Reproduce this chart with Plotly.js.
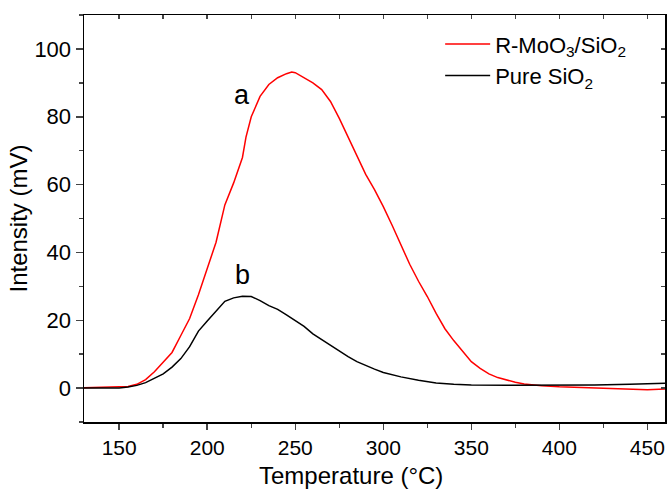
<!DOCTYPE html>
<html>
<head>
<meta charset="utf-8">
<script src="https://cdn.plot.ly/plotly-3.0.1.min.js"></script>
<style>html,body{margin:0;padding:0;background:#fff;}#chart{width:668px;height:492px;}</style>
</head>
<body>
<div id="chart"></div>
<script>
const tempRed = [130,135,140,145,150,155,160,165,170,175,180,185,190,195,200,205,210,215,220,222,225,230,235,240,245,248,250,255,260,265,270,275,280,285,290,295,300,305,310,315,320,325,330,335,340,345,350,355,360,365,370,375,380,385,390,400,410,420,430,440,450,460];
const intRed = [0.1,0.2,0.2,0.2,0.3,0.5,1.1,2.5,4.8,7.5,10.5,15.5,20.5,27.5,35.5,43,54,60.5,68,74,80,86,89.5,91.5,92.7,93.2,93,91.5,90,88,84.5,79.5,74,68.5,63,58.5,53.5,48,42,36.5,31.5,27,22,17.5,14,11,7.8,5.8,4.2,3.1,2.3,1.7,1.2,0.9,0.7,0.4,0.2,0,-0.2,-0.3,-0.5,-0.3];
const tempBlack = [130,135,140,145,150,155,160,165,170,175,180,185,190,195,200,205,210,215,220,225,230,235,240,245,250,255,260,265,270,275,280,285,290,295,300,305,310,320,330,340,350,370,400,420,440,460];
const intBlack = [0,0,-0.2,0,0,0.3,0.8,1.6,2.8,4.2,6.2,8.7,12.2,16.8,19.8,22.8,25.6,26.6,27.1,27,25.8,24.3,23.2,21.6,19.8,18.2,16,14.3,12.5,10.8,9.3,7.8,6.6,5.6,4.6,3.9,3.3,2.3,1.5,1.1,0.9,0.8,0.8,0.9,1.1,1.4];
const seriesNames = ["R-MoO<sub>3</sub>/SiO<sub>2</sub>", "Pure SiO<sub>2</sub>"];
const xTitle = 'Temperature (°C)';
const yTitle = 'Intensity (mV)';
const xRange = [130, 460];
const yRange = [-10, 110];

const font = "Liberation Sans, Arial, sans-serif";
const plotW = 668 - 84 - 3, plotH = 492 - 15 - 70;
const traces = [
  {x: tempRed, y: intRed, type: 'scatter', mode: 'lines', name: seriesNames[0], line: {color: '#ff0000', width: 1.5}},
  {x: tempBlack, y: intBlack, type: 'scatter', mode: 'lines', name: seriesNames[1], line: {color: '#000000', width: 1.5}},
  {x: [], y: [], xaxis: 'x2', yaxis: 'y2', showlegend: false, hoverinfo: 'skip', type: 'scatter'}
];
const layout = {
  width: 668, height: 492,
  margin: {l: 84, r: 3, t: 15, b: 70},
  paper_bgcolor: '#fff', plot_bgcolor: '#fff',
  font: {family: font, size: 22, color: '#000'},
  showlegend: true,
  legend: {x: 0.613, y: 0.98, xanchor: 'left', yanchor: 'top', bgcolor: 'rgba(0,0,0,0)', font: {size: 22, family: font}, tracegroupgap: 0, itemwidth: 45},
  xaxis: {range: xRange, dtick: 50, tick0: 150, ticks: 'outside', ticklen: 6, tickwidth: 1.5, showline: true, linewidth: 1.5, linecolor: '#000', mirror: true, showgrid: false, zeroline: false,
    minor: {dtick: 25, tick0: 125, ticks: 'outside', ticklen: 4, tickwidth: 1.5, showgrid: false},
    tickfont: {size: 21, family: font}},
  yaxis: {range: yRange, dtick: 20, tick0: 0, ticks: 'outside', ticklen: 7, tickwidth: 1.5, showline: true, linewidth: 1.5, linecolor: '#000', mirror: true, showgrid: false, zeroline: false,
    minor: {dtick: 10, tick0: 0, ticks: 'outside', ticklen: 4, tickwidth: 1.5, showgrid: false},
    title: {text: yTitle, font: {size: 24, family: font}, standoff: 0}, tickfont: {size: 22, family: font}},
  xaxis2: {range: xRange, overlaying: 'x', side: 'top', anchor: 'y2', dtick: 25, tick0: 125, ticks: 'inside', ticklen: 4, tickwidth: 1.5, showticklabels: false, showgrid: false, zeroline: false, showline: false},
  yaxis2: {range: yRange, overlaying: 'y', side: 'right', anchor: 'x2', dtick: 10, tick0: 0, ticks: 'inside', ticklen: 4, tickwidth: 1.5, showticklabels: false, showgrid: false, zeroline: false, showline: false},
  annotations: [
    {x: 220, y: 86.5, xref: 'x', yref: 'y', text: 'a', showarrow: false, font: {size: 27, family: font}},
    {x: 220, y: 33.3, xref: 'x', yref: 'y', text: 'b', showarrow: false, font: {size: 27, family: font}},
    {x: 0.5 - 24 / plotW, y: -(475 - 422) / plotH, xref: 'paper', yref: 'paper', text: xTitle, showarrow: false, font: {size: 24, family: font}, yanchor: 'middle'}
  ]
};
Plotly.newPlot('chart', traces, layout, {displayModeBar: false, staticPlot: true});
</script>
</body>
</html>
